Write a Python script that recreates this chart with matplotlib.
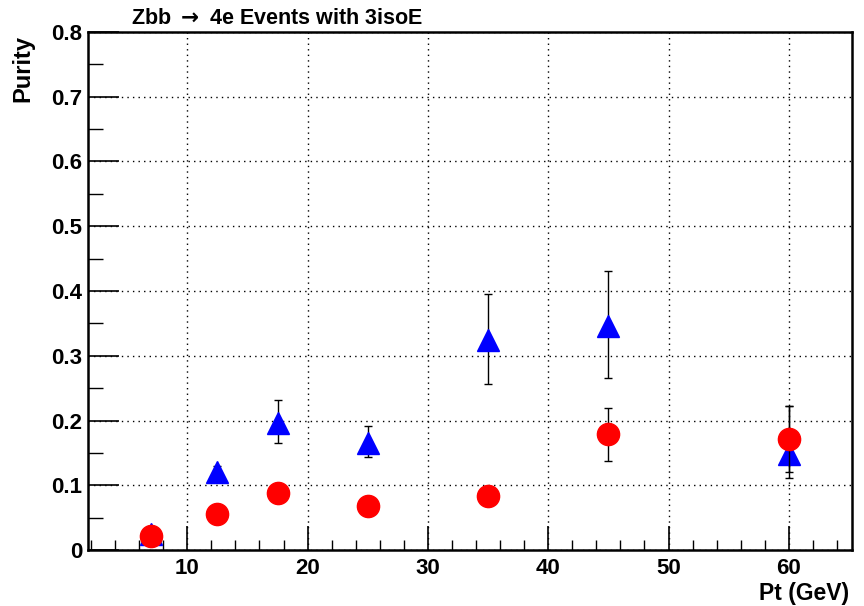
import matplotlib
matplotlib.use("Agg")
import matplotlib.pyplot as plt
from matplotlib.ticker import MultipleLocator

plt.rcParams["font.family"] = ["Liberation Sans", "DejaVu Sans"]
plt.rcParams["font.weight"] = "bold"

# Purity vs Pt
pt = [7, 12.5, 17.5, 25, 35, 45, 60]

tri_y = [0.025, 0.121, 0.196, 0.165, 0.324, 0.346, 0.149]
tri_lo = [0.005, 0.008, 0.030, 0.021, 0.067, 0.081, 0.038]
tri_hi = [0.005, 0.008, 0.035, 0.027, 0.071, 0.085, 0.074]

circ_y = [0.021, 0.056, 0.088, 0.068, 0.083, 0.179, 0.171]
circ_lo = [0.004, 0.006, 0.008, 0.007, 0.008, 0.042, 0.050]
circ_hi = [0.004, 0.006, 0.008, 0.007, 0.008, 0.041, 0.052]

ytick_vals = [0, 0.1, 0.2, 0.3, 0.4, 0.5, 0.6, 0.7, 0.8]
ytick_text = ["0", "0.1", "0.2", "0.3", "0.4", "0.5", "0.6", "0.7", "0.8"]

fig = plt.figure(figsize=(8.64, 6.06), dpi=100)
ax = fig.add_axes([0.1019, 0.0924, 0.8842, 0.8548])

ax.errorbar(pt, tri_y, yerr=[tri_lo, tri_hi], fmt="^", color="#0000ff",
            ms=16, mec="#0000ff", ecolor="black", elinewidth=1.0,
            capsize=3, capthick=1.0, zorder=3)
ax.errorbar(pt, circ_y, yerr=[circ_lo, circ_hi], fmt="o", color="#ff0000",
            ms=16, mec="#ff0000", ecolor="black", elinewidth=1.0,
            capsize=3, capthick=1.0, zorder=4)

ax.set_xlim(1.75, 65.25)
ax.set_ylim(0, 0.8)
ax.xaxis.set_major_locator(MultipleLocator(10))
ax.xaxis.set_minor_locator(MultipleLocator(2))
ax.yaxis.set_minor_locator(MultipleLocator(0.05))
ax.set_yticks(ytick_vals)
ax.set_yticklabels(ytick_text)

ax.grid(True, which="major", color="black", linestyle=(0, (1, 3)), linewidth=1.0)
ax.tick_params(which="major", direction="in", length=17, width=1.2,
               labelsize=16, top=False, right=False)
ax.tick_params(axis="y", which="major", length=22, pad=4)
ax.tick_params(axis="x", which="major", pad=6)
ax.tick_params(which="minor", direction="in", length=7, width=1.0,
               top=False, right=False)
ax.tick_params(axis="y", which="minor", length=11)
for s in ax.spines.values():
    s.set_linewidth(1.8)

fig.text(0.152, 0.969, r"Zbb $\rightarrow$ 4e Events with 3isoE",
         fontsize=15.5, fontweight="bold", va="center", ha="left")
fig.text(0.027, 0.942, "Purity", rotation=90, fontsize=17,
         fontweight="bold", va="top", ha="center")
fig.text(0.983, 0.02, "Pt (GeV)", fontsize=16.5, fontweight="bold",
         va="center", ha="right")

fig.savefig("out.png", dpi=100)
